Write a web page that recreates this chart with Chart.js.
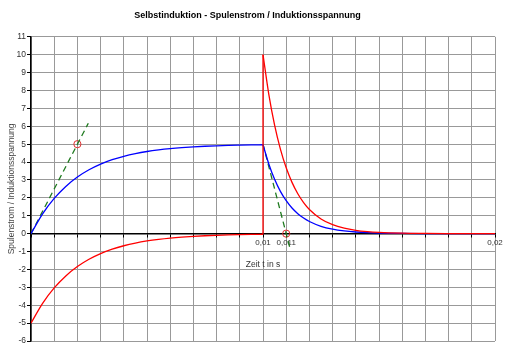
<!DOCTYPE html>
<html>
<head>
<meta charset="utf-8">
<script src="https://cdn.jsdelivr.net/npm/chart.js@4/dist/chart.umd.min.js"></script>
<style>
  html, body { margin: 0; padding: 0; background: #ffffff; }
  canvas { display: block; }
</style>
</head>
<body>
<canvas id="c" width="519" height="354"></canvas>
<script>
// ---- Data ----
const timeRise    = [0, 0.0005, 0.001, 0.0015, 0.002, 0.0025, 0.003, 0.0035, 0.004, 0.0045, 0.005,
                     0.0055, 0.006, 0.0065, 0.007, 0.0075, 0.008, 0.0085, 0.009, 0.0095, 0.01];
const currentRise = [0, 1.106, 1.967, 2.638, 3.161, 3.567, 3.884, 4.131, 4.323, 4.473, 4.590,
                     4.680, 4.751, 4.806, 4.849, 4.883, 4.908, 4.929, 4.944, 4.957, 4.966];
const voltageRise = [-5, -3.894, -3.033, -2.362, -1.839, -1.433, -1.116, -0.869, -0.677, -0.527, -0.410,
                     -0.320, -0.249, -0.194, -0.151, -0.117, -0.092, -0.071, -0.056, -0.043, -0.034];

const timeDecay    = [0.01, 0.01025, 0.0105, 0.01075, 0.011, 0.01125, 0.0115, 0.01175, 0.012,
                      0.0125, 0.013, 0.0135, 0.014, 0.0145, 0.015, 0.016, 0.017, 0.018, 0.019, 0.02];
const currentDecay = [4.966, 3.894, 3.033, 2.362, 1.839, 1.433, 1.116, 0.869, 0.677,
                      0.410, 0.249, 0.151, 0.092, 0.056, 0.034, 0.012, 0.005, 0.002, 0.001, 0];
const voltageDecay = [10, 7.788, 6.065, 4.724, 3.679, 2.865, 2.231, 1.738, 1.353,
                      0.821, 0.498, 0.302, 0.183, 0.111, 0.067, 0.025, 0.009, 0.003, 0.001, 0];

const tangentRiseT  = [0, 0.00247];
const tangentRiseV  = [0, 6.17];
const tangentDecayT = [0.01, 0.01117];
const tangentDecayV = [5, -0.85];

const markerT = [0.002, 0.011];
const markerV = [5, 0];

const xLabelValues = [0.01, 0.011, 0.02];
const xLabelTexts  = ['0,01', '0,011', '0,02'];

const yMin = -6, yMax = 11;
const xMin = 0, xMax = 0.02;

const titleText  = 'Selbstinduktion - Spulenstrom / Induktionsspannung';
const yTitleText = 'Spulenstrom / Induktionsspannung';
const xTitleText = 'Zeit t in s';

// ---- helpers ----
const pts = (xs, ys) => xs.map((x, i) => ({ x: x, y: ys[i] }));

const FONT = '"Liberation Sans", Arial, sans-serif';
const BLUE = '#0000ff', RED = '#ff0000', GREEN = '#1f7a1f';

const lineDs = (data, color, extra) => Object.assign({
  type: 'line', data: data, borderColor: color, backgroundColor: color,
  borderWidth: 1.3, pointRadius: 0, fill: false, cubicInterpolationMode: 'monotone'
}, extra || {});

const datasets = [
  lineDs(pts(timeRise, voltageRise), RED),
  lineDs([{ x: timeRise[timeRise.length - 1], y: voltageRise[voltageRise.length - 1] },
          { x: timeDecay[0], y: voltageDecay[0] }], RED, { cubicInterpolationMode: 'default', tension: 0 }),
  lineDs(pts(timeDecay, voltageDecay), RED),
  lineDs(pts(timeRise, currentRise), BLUE),
  lineDs(pts(timeDecay, currentDecay), BLUE),
  lineDs(pts(tangentRiseT, tangentRiseV), GREEN, { borderDash: [6, 4], tension: 0, cubicInterpolationMode: 'default' }),
  lineDs(pts(tangentDecayT, tangentDecayV), GREEN, { borderDash: [6, 4], tension: 0, cubicInterpolationMode: 'default' }),
  {
    type: 'scatter', data: pts(markerT, markerV), showLine: false,
    pointStyle: 'circle', pointRadius: 3.6, pointBorderWidth: 1,
    pointBorderColor: '#e03030', pointBackgroundColor: 'rgba(0,0,0,0)'
  }
];

const xTitlePlugin = {
  id: 'xTitle',
  afterDraw(chart) {
    const ctx = chart.ctx;
    const xs = chart.scales.x, ys = chart.scales.y;
    ctx.save();
    ctx.font = '8.5px ' + FONT;
    ctx.fillStyle = '#333333';
    ctx.textAlign = 'center';
    ctx.textBaseline = 'middle';
    ctx.fillText(xTitleText, xs.getPixelForValue(0.01), ys.getPixelForValue(0) + 31);
    ctx.restore();
  }
};

new Chart(document.getElementById('c'), {
  type: 'line',
  data: { datasets: datasets },
  plugins: [xTitlePlugin],
  options: {
    responsive: false,
    animation: false,
    devicePixelRatio: 1,
    layout: { padding: { left: 0, right: 24, top: 0, bottom: 13 } },
    plugins: {
      legend: { display: false },
      tooltip: { enabled: false },
      title: {
        display: true, text: titleText, color: '#000000',
        font: { family: FONT, size: 9, weight: 'bold' },
        padding: { top: 10, bottom: 16 }
      }
    },
    scales: {
      x: {
        type: 'linear', min: xMin, max: xMax,
        position: { y: 0 },
        grid: { color: '#999999', lineWidth: 1, tickLength: 3, tickColor: '#000000' },
        border: { color: '#000000', width: 1.5 },
        ticks: {
          stepSize: 0.001, autoSkip: false, maxRotation: 0, padding: 1,
          color: '#333333', font: { family: FONT, size: 8 },
          callback: (v) => {
            const i = xLabelValues.findIndex(t => Math.abs(t - v) < 1e-7);
            return i >= 0 ? xLabelTexts[i] : '';
          }
        }
      },
      y: {
        type: 'linear', min: yMin, max: yMax, position: 'left',
        grid: { color: '#999999', lineWidth: 1, tickLength: 4, tickColor: '#000000' },
        border: { color: '#000000', width: 1.5 },
        ticks: { stepSize: 1, color: '#333333', font: { family: FONT, size: 8.5 }, padding: 1 },
        title: {
          display: true, text: yTitleText, color: '#444444',
          font: { family: FONT, size: 8.5 }, padding: { top: 7, bottom: 0 }
        },
        afterFit: (s) => { s.width = 31; }
      }
    }
  }
});
</script>
</body>
</html>
